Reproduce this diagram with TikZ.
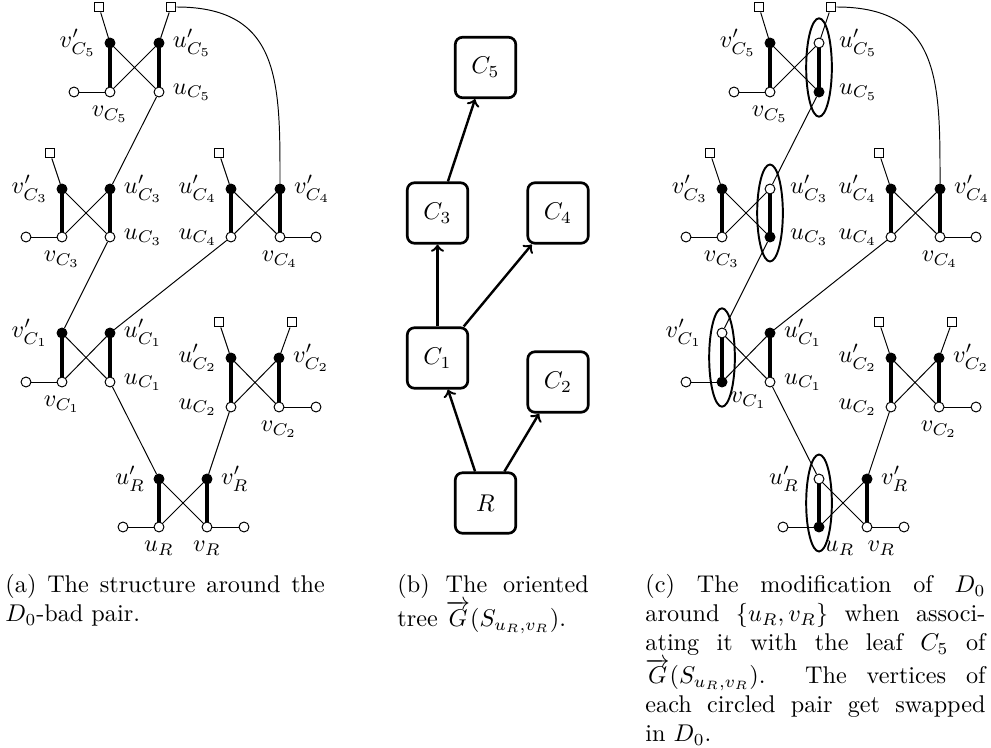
\documentclass[tikz,border=0pt]{standalone}
\usepackage{amsmath}
\usepackage{amssymb}
\usetikzlibrary{shapes.geometric,fit}
\tikzset{ %inner sep = 0mm,
  {base point/.style} ={circle,draw,inner sep=0,minimum size=4.1pt},
  {full point/.style} ={base point,fill=black},
  {open point/.style} ={base point,fill=white},
  {end box/.style} ={rectangle,draw,fill=white,inner sep=0,minimum size=4.1pt},
  {pair edge/.style} ={line width=1.6pt},
  {pair ring/.style} ={ellipse,draw,thick,inner xsep=1.5pt,inner ysep=2pt},
  {tree box/.style} ={rectangle,draw,line width=1.1pt,rounded corners=3pt,
                  minimum size=25pt},
  {tree arrow/.style} ={->,line width=1pt},
  {sub caption/.style} ={anchor=north west,inner sep=0,align=justify},
  % (a) keeps D_0, (c) swaps the circled pairs
  {plain panel/.style} ={top swap/.style={full point},
                  bottom swap/.style={open point},
                  ring label/.style={},low label/.style={},
                  foot label/.style={},ring foot label/.style={}},
  {swap panel/.style} ={top swap/.style={open point},
                  bottom swap/.style={full point},
                  ring label/.style={label distance=2.5pt},
                  low label/.style={xshift=11pt,yshift=1.5pt},
                  foot label/.style={xshift=6pt},
                  ring foot label/.style={xshift=8.5pt}},
 }

\begin{document}
\begin{tikzpicture}[x=0.4132pt,y=-0.4132pt]
\useasboundingbox (0,0) rectangle (991,747);

\foreach \p/\dx/\look in {a/0/plain panel,c/660/swap panel}{
\begin{scope}[shift={(\dx,0)},\look]
  % C_5
  \node[full point,label={left:$v'_{C_5}$}] (\p-vp5) at (110,43) {};
  \node[top swap,label={[ring label]right:$u'_{C_5}$}] (\p-up5) at (159,43) {};
  \node[open point,label={below:$v_{C_5}$}] (\p-v5) at (110,92) {};
  \node[bottom swap,label={[ring label]right:$u_{C_5}$}] (\p-u5) at (159,92) {};
  \node[open point] (\p-x5) at (74,92) {};
  \node[end box] (\p-s5a) at (99,7) {};
  \node[end box] (\p-s5b) at (171,7) {};
  % C_3
  \node[full point,label={left:$v'_{C_3}$}] (\p-vp3) at (62,189) {};
  \node[top swap,label={[ring label]right:$u'_{C_3}$}] (\p-up3) at (110,189) {};
  \node[open point,label={below:$v_{C_3}$}] (\p-v3) at (62,237) {};
  \node[bottom swap,label={[ring label]right:$u_{C_3}$}] (\p-u3) at (110,237) {};
  \node[open point] (\p-x3) at (26,237) {};
  \node[end box] (\p-s3) at (50,153) {};
  % C_4
  \node[full point,label={left:$u'_{C_4}$}] (\p-up4) at (231,189) {};
  \node[full point,label={right:$v'_{C_4}$}] (\p-vp4) at (280,189) {};
  \node[open point,label={left:$u_{C_4}$}] (\p-u4) at (231,237) {};
  \node[open point,label={below:$v_{C_4}$}] (\p-v4) at (280,237) {};
  \node[open point] (\p-x4) at (316,237) {};
  \node[end box] (\p-s4) at (219,153) {};
  % C_1
  \node[top swap,label={[ring label]left:$v'_{C_1}$}] (\p-vp1) at (62,333) {};
  \node[full point,label={right:$u'_{C_1}$}] (\p-up1) at (110,333) {};
  \node[bottom swap,label={[low label]below:$v_{C_1}$}] (\p-v1) at (62,382) {};
  \node[open point,label={right:$u_{C_1}$}] (\p-u1) at (110,382) {};
  \node[open point] (\p-x1) at (26,382) {};
  % C_2
  \node[full point,label={left:$u'_{C_2}$}] (\p-up2) at (231,358) {};
  \node[full point,label={right:$v'_{C_2}$}] (\p-vp2) at (279,358) {};
  \node[open point,label={left:$u_{C_2}$}] (\p-u2) at (231,407) {};
  \node[open point,label={below:$v_{C_2}$}] (\p-v2) at (279,407) {};
  \node[open point] (\p-x2) at (316,407) {};
  \node[end box] (\p-s2a) at (219,322) {};
  \node[end box] (\p-s2b) at (292,322) {};
  % R
  \node[top swap,label={[ring label]left:$u'_R$}] (\p-upr) at (159,479) {};
  \node[full point,label={right:$v'_R$}] (\p-vpr) at (207,479) {};
  \node[bottom swap,label={[ring foot label]below:$u_R$}] (\p-ur) at (159,527) {};
  \node[open point,label={[foot label]below:$v_R$}] (\p-vr) at (207,527) {};
  \node[open point] (\p-xr1) at (123,527) {};
  \node[open point] (\p-xr2) at (244,527) {};

  \foreach \i in {5,3,4,1,2,r}{
    \draw[pair edge] (\p-vp\i) -- (\p-v\i) (\p-up\i) -- (\p-u\i);
    \draw (\p-vp\i) -- (\p-u\i) (\p-up\i) -- (\p-v\i);
  }
  \foreach \i/\j in {v5/x5,v3/x3,v4/x4,v1/x1,v2/x2,ur/xr1,vr/xr2,
      s5a/vp5,s5b/up5,s3/vp3,s4/up4,s2a/up2,s2b/vp2,
      u5/up3,u3/vp1,u4/up1,u1/upr,u2/vpr}
    \draw (\p-\i) -- (\p-\j);
  \draw (\p-s5b.east) .. controls +(105,0) and +(0,-100) .. (\p-vp4.north);
\end{scope}
}

\foreach \i/\j in {up5/u5,up3/u3,vp1/v1,upr/ur}
  \node[pair ring,fit=(c-\i)(c-\j)] (c-ring-\i) {};

% the oriented tree
\node[tree box] (b-c5) at (485.5,67.5) {$C_5$};
\node[tree box] (b-c3) at (437.5,213) {$C_3$};
\node[tree box] (b-c4) at (558,213) {$C_4$};
\node[tree box] (b-c1) at (437.5,358) {$C_1$};
\node[tree box] (b-c2) at (558,382) {$C_2$};
\node[tree box] (b-r) at (485.5,503) {$R$};
\draw[tree arrow] (b-r) -- (b-c1);
\draw[tree arrow] (b-r) -- (b-c2);
\draw[tree arrow] (b-c1) -- (b-c3);
\draw[tree arrow] (b-c1) -- (b-c4);
\draw[tree arrow] (b-c3) -- (b-c5);

\node[sub caption,text width=132pt] (cap-a) at (5,574)
  {(a) The structure around the $D_0$-bad pair.};
\node[sub caption,text width=79pt] (cap-b) at (397,574)
  {(b) The oriented tree $\overrightarrow{G}(S_{u_R,v_R})$.};
\node[sub caption,text width=140.5pt] (cap-c) at (645,574)
  {(c) The modification of $D_0$ around $\{u_R,v_R\}$ when associating it
   with the leaf $C_5$ of $\overrightarrow{G}(S_{u_R,v_R})$.\ \ The vertices of\linebreak
   each circled pair get swapped\linebreak in $D_0$.};
\end{tikzpicture}
\end{document}
